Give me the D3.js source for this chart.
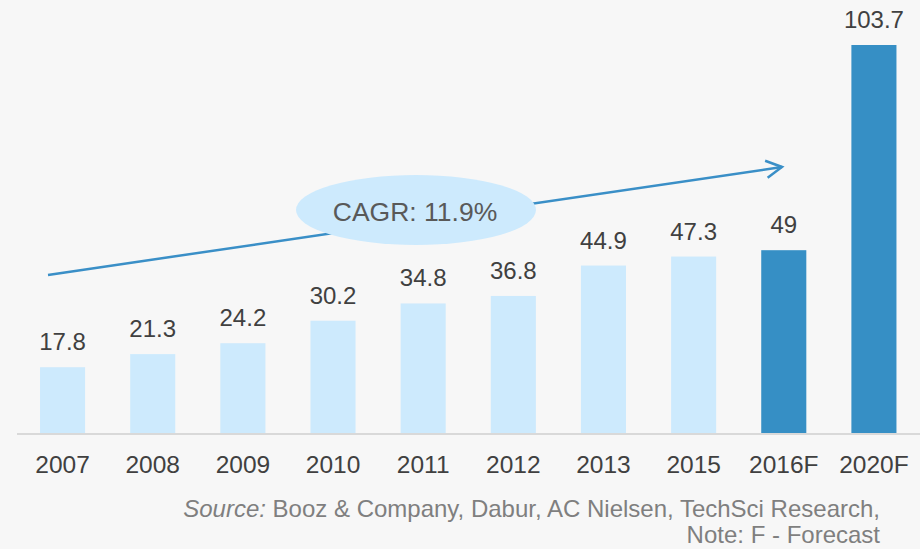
<!DOCTYPE html>
<html>
<head>
<meta charset="utf-8">
<script src="https://cdn.jsdelivr.net/npm/d3@7"></script>
<style>
  body { margin: 0; background: #f7f7f7; }
  svg { display: block; font-family: "Liberation Sans", Arial, sans-serif; }
</style>
</head>
<body>
<svg id="chart" width="920" height="549"></svg>
<script>
const years = ["2007", "2008", "2009", "2010", "2011", "2012", "2013", "2015", "2016F", "2020F"];
const values = [17.8, 21.3, 24.2, 30.2, 34.8, 36.8, 44.9, 47.3, 49, 103.7];
const forecast = [false, false, false, false, false, false, false, false, true, true];
const cagrLabel = "CAGR: 11.9%";
const sourceLines = ["Booz & Company, Dabur, AC Nielsen, TechSci Research,", "Note: F - Forecast"];

const width = 920, height = 549;
const svg = d3.select("#chart");

svg.append("rect").attr("width", width).attr("height", height).attr("fill", "#f7f7f7");

const data = years.map((y, i) => ({ year: y, value: values[i], f: forecast[i] }));

const x = d3.scaleBand()
    .domain(years)
    .range([17.5, 919])
    .paddingInner(0.5)
    .paddingOuter(0.25);

const y = d3.scaleLinear()
    .domain([0, 103.7])
    .range([434, 45]);

// bars
svg.selectAll(".bar")
    .data(data)
    .enter()
    .append("rect")
    .attr("class", "bar")
    .attr("x", d => x(d.year))
    .attr("y", d => y(d.value))
    .attr("width", x.bandwidth())
    .attr("height", d => y(0) - y(d.value))
    .attr("fill", d => d.f ? "#368fc5" : "#cdeafd");

// value labels
svg.selectAll(".val")
    .data(data)
    .enter()
    .append("text")
    .attr("class", "val")
    .attr("x", d => x(d.year) + x.bandwidth() / 2)
    .attr("y", d => y(d.value) - 17)
    .attr("text-anchor", "middle")
    .attr("font-size", "24px")
    .attr("fill", "#404040")
    .text(d => d.value);

// x axis
const xAxis = svg.append("g")
    .attr("transform", `translate(0,${y(0)})`)
    .call(d3.axisBottom(x).tickSize(0).tickPadding(22));
xAxis.select(".domain").attr("stroke", "#d9d9d9").attr("stroke-width", 2)
    .attr("d", `M17,0H920`);
xAxis.selectAll("text")
    .attr("font-size", "24.5px")
    .attr("font-family", "Liberation Sans, Arial, sans-serif")
    .attr("fill", "#404040");

// CAGR arrow
const arrowStart = [48, 275], arrowEnd = [782, 167];
const ang = Math.atan2(arrowEnd[1] - arrowStart[1], arrowEnd[0] - arrowStart[0]);
svg.append("line")
    .attr("x1", arrowStart[0]).attr("y1", arrowStart[1])
    .attr("x2", arrowEnd[0]).attr("y2", arrowEnd[1])
    .attr("stroke", "#3a8fc7").attr("stroke-width", 2.5);
const headLen = 18, headAng = 0.5;
const p1 = [arrowEnd[0] - headLen * Math.cos(ang - headAng), arrowEnd[1] - headLen * Math.sin(ang - headAng)];
const p2 = [arrowEnd[0] - headLen * Math.cos(ang + headAng), arrowEnd[1] - headLen * Math.sin(ang + headAng)];
svg.append("path")
    .attr("d", `M${p1}L${arrowEnd}L${p2}`)
    .attr("fill", "none")
    .attr("stroke", "#3a8fc7")
    .attr("stroke-width", 2.5);

svg.append("ellipse")
    .attr("cx", 416).attr("cy", 210)
    .attr("rx", 120).attr("ry", 35)
    .attr("fill", "#cdeafd");
svg.append("text")
    .attr("x", 415).attr("y", 221)
    .attr("text-anchor", "middle")
    .attr("font-size", "26.5px")
    .attr("fill", "#595959")
    .text(cagrLabel);

// source note
const src = svg.append("text")
    .attr("x", 880).attr("y", 517)
    .attr("text-anchor", "end")
    .attr("font-size", "24px")
    .attr("fill", "#7f7f7f");
src.append("tspan").attr("font-style", "italic").text("Source: ");
src.append("tspan").text(sourceLines[0]);
svg.append("text")
    .attr("x", 880).attr("y", 543)
    .attr("text-anchor", "end")
    .attr("font-size", "24px")
    .attr("fill", "#7f7f7f")
    .text(sourceLines[1]);
</script>
</body>
</html>
